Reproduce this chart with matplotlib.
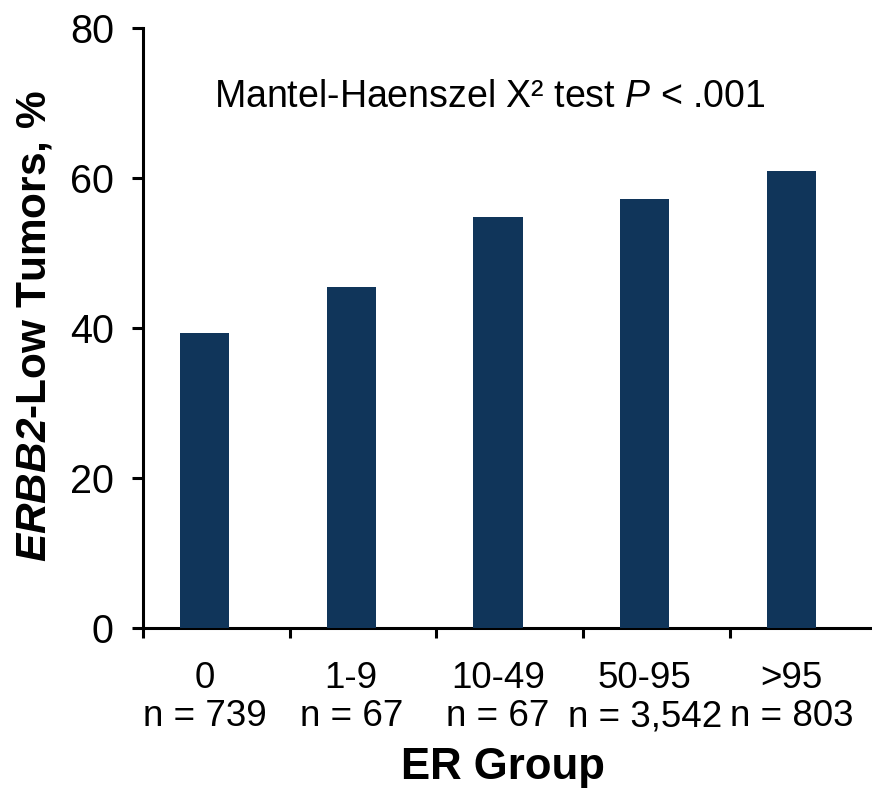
import numpy as np
import matplotlib as mpl
import matplotlib.pyplot as plt

# data
groups = ['0', '1-9', '10-49', '50-95', '>95']
counts = ['n = 739', 'n = 67', 'n = 67', 'n = 3,542', 'n = 803']
pct_low = [39.3, 45.5, 54.8, 57.2, 60.9]

mpl.rcParams['font.family'] = ['Liberation Sans', 'DejaVu Sans']
mpl.rcParams['mathtext.fontset'] = 'custom'
mpl.rcParams['mathtext.rm'] = 'Liberation Sans'
mpl.rcParams['mathtext.it'] = 'Liberation Sans:italic'
mpl.rcParams['mathtext.bf'] = 'Liberation Sans:bold'
mpl.rcParams['mathtext.bfit'] = 'Liberation Sans:bold:italic'

bar_color = '#10355A'

fig = plt.figure(figsize=(8.72, 7.89), dpi=100)
ax = fig.add_axes([143 / 872, 1 - 628 / 789, 729 / 872, 600 / 789])

x = np.arange(len(groups)) + 0.42
ax.bar(x, pct_low, width=0.335, color=bar_color, zorder=3)

ax.set_xlim(0, 4.97)
ax.set_ylim(0, 80)

for s in ['top', 'right']:
    ax.spines[s].set_visible(False)
for s in ['left', 'bottom']:
    ax.spines[s].set_linewidth(2.2)

ax.set_yticks([0, 20, 40, 60, 80])
ax.tick_params(axis='y', direction='out', length=8, width=2.2, pad=13, labelsize=28.5)
ax.set_xticks(np.arange(len(groups)))
ax.set_xticklabels([])
ax.tick_params(axis='x', direction='out', length=7, width=2.2)

# category labels, two lines under each bar
for xi, g, n in zip(x, groups, counts):
    ax.text(xi, -8.0, g, ha='center', va='baseline', fontsize=26.5, clip_on=False)
    ax.text(xi, -13.1, n, ha='center', va='baseline', fontsize=26.5, clip_on=False)

ax.text(0.476, 0.885, 'Mantel-Haenszel X\u00b2 test $\\mathit{P}$ < .001',
        transform=ax.transAxes, ha='center', va='center', fontsize=27)

fig.text(503 / 872, 1 - 779 / 789, 'ER Group', ha='center', va='baseline',
         fontsize=31.5, fontweight='bold')
fig.text(35 / 872, 1 - 326 / 789, r'$\mathbfit{ERBB2}$-Low Tumors, %', rotation=90,
         ha='center', va='center', fontsize=30.5, fontweight='bold')

plt.savefig('out.png', dpi=100)
